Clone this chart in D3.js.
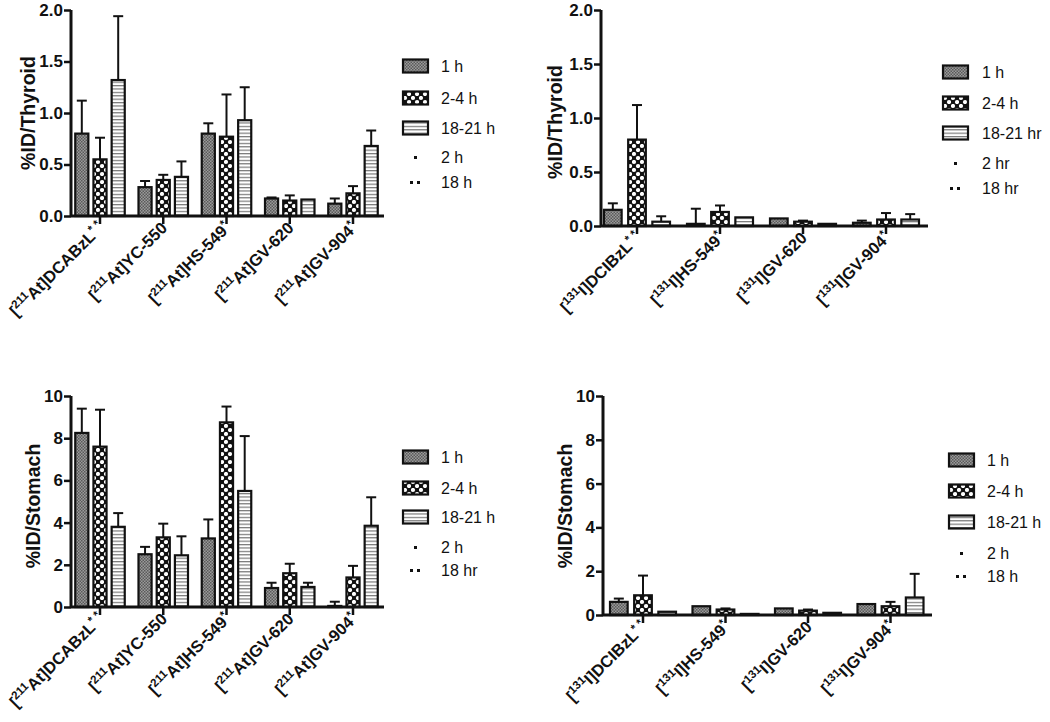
<!DOCTYPE html>
<html><head><meta charset="utf-8">
<script src="https://cdn.jsdelivr.net/npm/d3@7"></script>
<style>
html,body{margin:0;padding:0;background:#fff;}
svg text{font-family:"Liberation Sans",Arial,Helvetica,sans-serif;}
</style></head>
<body>
<svg id="chart" width="1050" height="722"></svg>
<script>
// ---------- data ----------
const seriesNames = ["1 h", "2-4 h", "18-21 h"];

const catsAt = ["DCABzL", "YC-550", "HS-549", "GV-620", "GV-904"];
const starsAt = ["* *", "", "*", "", "*"];
const catsI = ["DCIBzL", "HS-549", "GV-620", "GV-904"];
const starsI = ["* *", "*", "", "*"];

// [series][category]
const thyroidAtMean = [[0.80, 0.28, 0.80, 0.17, 0.12], [0.55, 0.35, 0.77, 0.15, 0.22], [1.32, 0.38, 0.93, 0.16, 0.68]];
const thyroidAtTop  = [[1.12, 0.34, 0.90, 0.18, 0.17], [0.76, 0.40, 1.18, 0.20, 0.29], [1.94, 0.53, 1.25, 0.16, 0.83]];

const thyroidIMean = [[0.15, 0.02, 0.07, 0.03], [0.80, 0.13, 0.04, 0.06], [0.04, 0.08, 0.02, 0.06]];
const thyroidITop  = [[0.21, 0.16, 0.07, 0.05], [1.12, 0.19, 0.05, 0.12], [0.09, 0.08, 0.02, 0.11]];

const stomachAtMean = [[8.25, 2.5, 3.25, 0.9, 0.05], [7.6, 3.3, 8.75, 1.6, 1.4], [3.8, 2.45, 5.5, 0.95, 3.85]];
const stomachAtTop  = [[9.4, 2.85, 4.15, 1.15, 0.25], [9.35, 3.95, 9.5, 2.05, 1.95], [4.45, 3.35, 8.1, 1.15, 5.2]];

const stomachIMean = [[0.6, 0.4, 0.3, 0.5], [0.9, 0.25, 0.2, 0.4], [0.15, 0.05, 0.1, 0.8]];
const stomachITop  = [[0.75, 0.4, 0.3, 0.5], [1.8, 0.3, 0.25, 0.6], [0.15, 0.05, 0.1, 1.88]];

const thyroidTicks = [0, 0.5, 1.0, 1.5, 2.0];
const stomachTicks = [0, 2, 4, 6, 8, 10];

const legendA = ["1 h", "2-4 h", "18-21 h", "2 h", "18 h"];
const legendB = ["1 h", "2-4 h", "18-21 hr", "2 hr", "18 hr"];
const legendC = ["1 h", "2-4 h", "18-21 h", "2 h", "18 hr"];
const legendD = ["1 h", "2-4 h", "18-21 h", "2 h", "18 h"];

// ---------- drawing ----------
const svg = d3.select("#chart");
const defs = svg.append("defs");

const p1 = defs.append("pattern").attr("id", "pat0").attr("patternUnits", "userSpaceOnUse").attr("width", 3).attr("height", 3);
p1.append("rect").attr("width", 3).attr("height", 3).attr("fill", "#9a9a9a");
p1.append("rect").attr("width", 1.5).attr("height", 1.5).attr("fill", "#5a5a5a");
p1.append("rect").attr("x", 1.5).attr("y", 1.5).attr("width", 1.5).attr("height", 1.5).attr("fill", "#5a5a5a");
const p2 = defs.append("pattern").attr("id", "pat1").attr("patternUnits", "userSpaceOnUse").attr("width", 8).attr("height", 8);
p2.append("rect").attr("width", 8).attr("height", 8).attr("fill", "#111");
p2.append("circle").attr("cx", 2).attr("cy", 2).attr("r", 2.1).attr("fill", "#fff");
p2.append("circle").attr("cx", 6).attr("cy", 6).attr("r", 2.1).attr("fill", "#fff");
const p3 = defs.append("pattern").attr("id", "pat2").attr("patternUnits", "userSpaceOnUse").attr("width", 6).attr("height", 3.4);
p3.append("rect").attr("width", 6).attr("height", 3.4).attr("fill", "#fff");
p3.append("rect").attr("y", 0).attr("width", 6).attr("height", 1.2).attr("fill", "#777");

function panel(cfg) {
  const g = svg.append("g");
  const n = cfg.cats.length;
  const x0 = d3.scaleBand().domain(cfg.cats)
    .range([cfg.firstCenter - cfg.step / 2, cfg.firstCenter - cfg.step / 2 + n * cfg.step]).padding(0);
  const x1 = d3.scaleBand().domain(seriesNames).range([-cfg.sub * 1.5, cfg.sub * 1.5]).paddingInner(cfg.gapFrac).paddingOuter(0);
  const y = d3.scaleLinear().domain([cfg.ticks[0], cfg.ticks[cfg.ticks.length - 1]]).range([cfg.y0, cfg.yTop]);

  seriesNames.forEach((s, si) => {
    cfg.cats.forEach((c, ci) => {
      const cx = x0(c) + x0.bandwidth() / 2;
      const bx = cx + x1(s);
      const v = cfg.mean[si][ci];
      const top = cfg.top[si][ci];
      if (top > v) {
        const ex = bx + x1.bandwidth() / 2;
        g.append("line").attr("x1", ex).attr("x2", ex).attr("y1", y(v)).attr("y2", y(top))
          .attr("stroke", "#111").attr("stroke-width", 2);
        g.append("line").attr("x1", ex - 5).attr("x2", ex + 5).attr("y1", y(top)).attr("y2", y(top))
          .attr("stroke", "#111").attr("stroke-width", 2);
      }
      g.append("rect").attr("x", bx).attr("y", y(v)).attr("width", x1.bandwidth())
        .attr("height", Math.max(0, y(0) - y(v)))
        .attr("fill", "url(#pat" + si + ")").attr("stroke", "#111").attr("stroke-width", 2.2);
    });
  });

  const ya = g.append("g").attr("transform", `translate(${cfg.axisX},0)`)
    .call(d3.axisLeft(y).tickValues(cfg.ticks).tickFormat(cfg.fmt).tickSize(7).tickPadding(1));
  ya.select(".domain").attr("stroke", "#111").attr("stroke-width", 3).attr("d", `M0,${cfg.yTop}V${cfg.y0}`);
  ya.selectAll(".tick line").attr("stroke", "#111").attr("stroke-width", 2.5);
  ya.selectAll(".tick text").attr("font-size", 17).attr("font-weight", "bold").attr("fill", "#111")
    .attr("font-family", "Liberation Sans, Arial, sans-serif");

  const xa = g.append("g").attr("transform", `translate(0,${cfg.y0})`)
    .call(d3.axisBottom(x0).tickSize(8).tickFormat(""));
  xa.select(".domain").attr("stroke", "#111").attr("stroke-width", 3).attr("d", `M${cfg.axisX},0H${cfg.axisEnd}`);
  xa.selectAll(".tick line").attr("stroke", "#111").attr("stroke-width", 2.5);

  cfg.cats.forEach((c, ci) => {
    const cx = x0(c) + x0.bandwidth() / 2;
    const t = g.append("text")
      .attr("transform", `translate(${cx + 5},${cfg.y0 + 13}) rotate(-45)`)
      .attr("text-anchor", "end").attr("font-size", cfg.labelSize).attr("font-weight", "bold").attr("fill", "#111");
    t.append("tspan").text("[");
    t.append("tspan").attr("font-size", cfg.labelSize * 0.7).attr("dy", -cfg.labelSize * 0.38).text(cfg.iso);
    t.append("tspan").attr("dy", cfg.labelSize * 0.38).text(cfg.el + "]" + c);
    if (cfg.stars[ci]) {
      t.append("tspan").attr("font-size", cfg.labelSize * 0.7).attr("dy", -cfg.labelSize * 0.35).text(cfg.stars[ci]);
    }
  });

  g.append("text").attr("transform", `translate(${cfg.titleX},${cfg.titleY}) rotate(-90)`)
    .attr("text-anchor", "middle").attr("dominant-baseline", "central")
    .attr("font-size", 19.5).attr("font-weight", "bold").attr("fill", "#111").text(cfg.title);

  const lg = g.append("g").attr("transform", `translate(${cfg.legX},0)`);
  cfg.legend.forEach((txt, i) => {
    const yy = cfg.legY[i];
    if (i < 3) {
      lg.append("rect").attr("x", 0).attr("y", yy - 6.5).attr("width", 25).attr("height", 13)
        .attr("fill", "url(#pat" + i + ")").attr("stroke", "#111").attr("stroke-width", 2.2);
    } else if (i === 3) {
      lg.append("rect").attr("x", 11).attr("y", yy - 1).attr("width", 3).attr("height", 3).attr("fill", "#111");
    } else {
      lg.append("rect").attr("x", 7).attr("y", yy - 1).attr("width", 3).attr("height", 3).attr("fill", "#111");
      lg.append("rect").attr("x", 14).attr("y", yy - 1).attr("width", 3).attr("height", 3).attr("fill", "#111");
    }
    lg.append("text").attr("x", cfg.legTextDx).attr("y", yy).attr("dominant-baseline", "central")
      .attr("font-size", 16).attr("fill", "#111").text(txt);
  });
}

panel({
  cats: catsAt, stars: starsAt, iso: "211", el: "At", mean: thyroidAtMean, top: thyroidAtTop,
  ticks: thyroidTicks, fmt: d3.format(".1f"), axisX: 71, axisEnd: 384, y0: 216, yTop: 10,
  firstCenter: 100, step: 63.25, sub: 16.5, gapFrac: 0.28, labelSize: 16.5,
  title: "%ID/Thyroid", titleX: 28, titleY: 113,
  legend: legendA, legX: 403, legTextDx: 38, legY: [66, 98, 128, 157, 182]
});
panel({
  cats: catsI, stars: starsI, iso: "131", el: "I", mean: thyroidIMean, top: thyroidITop,
  ticks: thyroidTicks, fmt: d3.format(".1f"), axisX: 601, axisEnd: 928, y0: 226, yTop: 10,
  firstCenter: 637, step: 83, sub: 22, gapFrac: 0.27, labelSize: 16.5,
  title: "%ID/Thyroid", titleX: 555, titleY: 122,
  legend: legendB, legX: 943, legTextDx: 39, legY: [72, 103, 133, 163, 188]
});
panel({
  cats: catsAt, stars: starsAt, iso: "211", el: "At", mean: stomachAtMean, top: stomachAtTop,
  ticks: stomachTicks, fmt: d3.format("d"), axisX: 71, axisEnd: 384, y0: 607, yTop: 396,
  firstCenter: 100, step: 63.25, sub: 16.5, gapFrac: 0.28, labelSize: 16.5,
  title: "%ID/Stomach", titleX: 33, titleY: 506,
  legend: legendC, legX: 403, legTextDx: 38, legY: [457, 488, 517, 547, 570]
});
panel({
  cats: catsI, stars: starsI, iso: "131", el: "I", mean: stomachIMean, top: stomachITop,
  ticks: stomachTicks, fmt: d3.format("d"), axisX: 603, axisEnd: 932, y0: 615, yTop: 396,
  firstCenter: 643, step: 82.5, sub: 22, gapFrac: 0.27, labelSize: 16.5,
  title: "%ID/Stomach", titleX: 565, titleY: 506,
  legend: legendD, legX: 949, legTextDx: 38, legY: [460, 491, 522, 553, 576]
});
</script>
</body></html>
